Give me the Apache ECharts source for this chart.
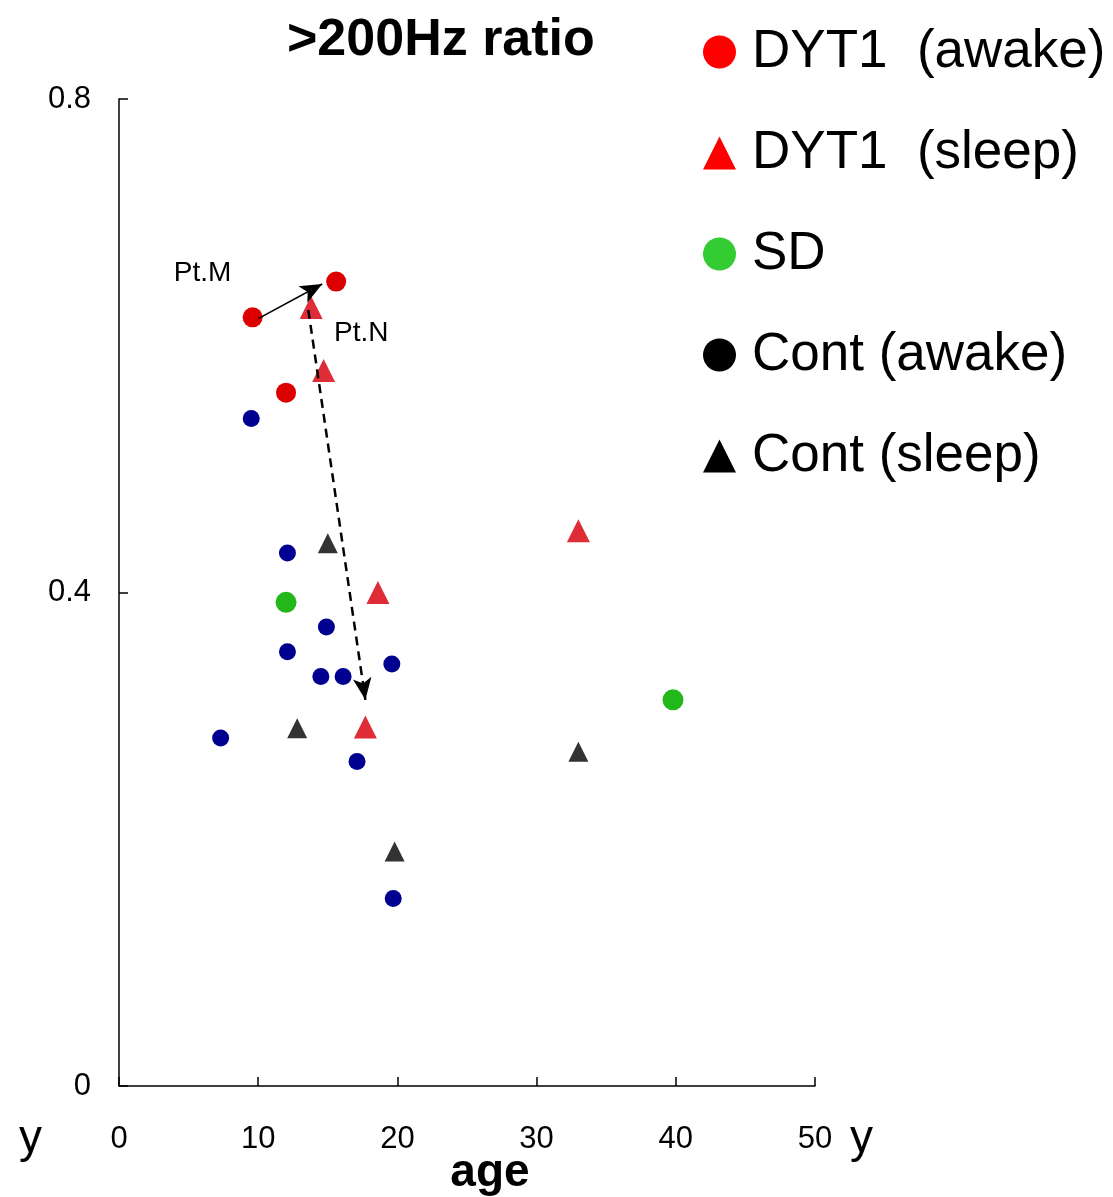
<!DOCTYPE html>
<html>
<head>
<meta charset="utf-8">
<script src="https://cdn.jsdelivr.net/npm/echarts@6/dist/echarts.min.js"></script>
<style>
  html, body { margin: 0; padding: 0; background: #fff; }
  #main { width: 1113px; height: 1197px; }
</style>
</head>
<body>
<div id="main"></div>
<script>
// data: [age, ratio]
const dytAwake = [[9.6, 0.623], [15.6, 0.652], [12.0, 0.562]];
const dytSleep = [[13.8, 0.631], [14.7, 0.580], [18.6, 0.400], [33.0, 0.450], [17.7, 0.291]];
const sdPts = [[12.0, 0.392], [39.8, 0.313]];
const contAwake = [
  [9.5, 0.541], [12.1, 0.432], [14.9, 0.372], [12.1, 0.352], [14.5, 0.332],
  [16.1, 0.332], [19.6, 0.342], [7.3, 0.282], [17.1, 0.263], [19.7, 0.152]
];
const contSleep = [[15.0, 0.440], [12.8, 0.290], [33.0, 0.271], [19.8, 0.190]];

// arrows (Pt.M: awake -> awake, Pt.N: sleep -> sleep)
const arrowM = [[10.0, 0.622], [14.6, 0.650]];
const arrowN = [[13.6, 0.629], [17.7, 0.313]];
const noteM = [6.0, 0.659];
const noteN = [17.4, 0.610];

const xTicks = { min: 0, max: 50, step: 10 };
const yTicks = { min: 0, max: 0.8, step: 0.4 };

const names = ['DYT1  (awake)', 'DYT1  (sleep)', 'SD', 'Cont (awake)', 'Cont (sleep)'];

const chartDom = document.getElementById('main');
const myChart = echarts.init(chartDom);

const font = 'Liberation Sans, Arial, sans-serif';

const option = {
  animation: false,
  backgroundColor: '#fff',
  title: {
    text: '>200Hz ratio',
    left: 282,
    top: 10,
    textStyle: { fontFamily: font, fontSize: 52, fontWeight: 'bold', color: '#000' }
  },
  legend: {
    orient: 'vertical',
    left: 703,
    top: 22,
    padding: 0,
    itemWidth: 33,
    itemHeight: 33,
    itemGap: 41,
    selectedMode: false,
    textStyle: { fontFamily: font, fontSize: 53, color: '#000', lineHeight: 60, padding: [0, 0, 0, 11] },
    data: [
      { name: names[0], icon: 'circle', itemStyle: { color: '#ff0000', opacity: 1 } },
      { name: names[1], icon: 'triangle', itemStyle: { color: '#ff0000', opacity: 1 } },
      { name: names[2], icon: 'circle', itemStyle: { color: '#33cc33', opacity: 1 } },
      { name: names[3], icon: 'circle', itemStyle: { color: '#000000', opacity: 1 } },
      { name: names[4], icon: 'triangle', itemStyle: { color: '#000000', opacity: 1 } }
    ]
  },
  grid: { left: 119, right: 298, top: 99, bottom: 111, containLabel: false, outerBoundsMode: 'none' },
  xAxis: {
    type: 'value',
    min: xTicks.min, max: xTicks.max, interval: xTicks.step,
    name: 'age',
    nameLocation: 'middle',
    nameGap: 64,
    nameMoveOverlap: false,
    nameTextStyle: { fontFamily: font, fontSize: 46, fontWeight: 'bold', color: '#000', padding: [0, 0, 0, 46] },
    axisLine: { lineStyle: { color: '#000', width: 1.5 } },
    axisTick: { inside: true, length: 9, lineStyle: { color: '#000', width: 1.5 } },
    axisLabel: { fontFamily: font, fontSize: 31, color: '#000', margin: 38 },
    splitLine: { show: false }
  },
  yAxis: {
    type: 'value',
    min: yTicks.min, max: yTicks.max, interval: yTicks.step,
    axisLine: { show: true, lineStyle: { color: '#000', width: 1.5 } },
    axisTick: { show: true, inside: true, length: 9, lineStyle: { color: '#000', width: 1.5 } },
    axisLabel: { fontFamily: font, fontSize: 31, color: '#000', margin: 28 },
    splitLine: { show: false }
  },
  graphic: [
    { type: 'text', left: 19, top: 1116, style: { text: 'y', font: '46px ' + font, fill: '#000' } },
    { type: 'text', left: 850, top: 1116, style: { text: 'y', font: '46px ' + font, fill: '#000' } }
  ],
  series: [
    {
      name: names[3], type: 'scatter', symbol: 'circle', symbolSize: 17,
      itemStyle: { color: '#000090', opacity: 1 }, data: contAwake, z: 2
    },
    {
      name: names[4], type: 'scatter', symbol: 'triangle', symbolSize: 20,
      itemStyle: { color: '#333333', opacity: 1 }, data: contSleep, z: 2
    },
    {
      name: names[2], type: 'scatter', symbol: 'circle', symbolSize: 21,
      itemStyle: { color: '#22b81a', opacity: 1 }, data: sdPts, z: 2
    },
    {
      name: names[1], type: 'scatter', symbol: 'triangle', symbolSize: 23,
      itemStyle: { color: '#de2d36', opacity: 1 }, data: dytSleep, z: 3
    },
    {
      name: names[0], type: 'scatter', symbol: 'circle', symbolSize: 20,
      itemStyle: { color: '#dd0000', opacity: 1 }, data: dytAwake, z: 3,
      markLine: {
        silent: true,
        label: { show: false },
        symbol: ['none', 'arrow'],
        symbolSize: [14, 22],
        data: [
          [{ coord: arrowM[0], lineStyle: { color: '#000', width: 1.6, type: 'solid' } }, { coord: arrowM[1] }],
          [{ coord: arrowN[0], lineStyle: { color: '#000', width: 2.5, type: [9, 6] } }, { coord: arrowN[1] }]
        ]
      },
      markPoint: {
        silent: true,
        symbolSize: 0,
        label: { show: true, position: 'inside', fontFamily: font, fontSize: 28, color: '#000' },
        data: [
          { coord: noteM, value: 'Pt.M', label: { formatter: 'Pt.M' } },
          { coord: noteN, value: 'Pt.N', label: { formatter: 'Pt.N' } }
        ]
      }
    }
  ]
};

option && myChart.setOption(option);
</script>
</body>
</html>
